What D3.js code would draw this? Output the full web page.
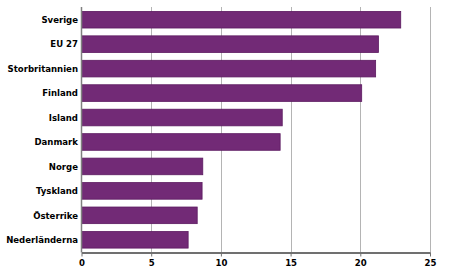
<!DOCTYPE html>
<html>
<head>
<meta charset="utf-8">
<script src="https://cdn.jsdelivr.net/npm/d3@7"></script>
<style>
  body { margin: 0; background: #fff; }
  text { font-family: 'DejaVu Sans Condensed', 'DejaVu Sans', sans-serif; font-weight: bold; font-size: 9.5px; fill: #000; }
</style>
</head>
<body>
<div id="chart"></div>
<script>
// values
const countries = ['Sverige', 'EU 27', 'Storbritannien', 'Finland', 'Island',
  'Danmark', 'Norge', 'Tyskland', 'Österrike', 'Nederländerna'];
const values = [22.9, 21.3, 21.1, 20.1, 14.4, 14.25, 8.7, 8.65, 8.3, 7.65];
const ticks = [0, 5, 10, 15, 20, 25];

const W = 450, H = 272;
const margin = { top: 7, right: 20, bottom: 19.5, left: 81.5 };

const svg = d3.select('#chart').append('svg')
  .attr('width', W)
  .attr('height', H);

const x = d3.scaleLinear()
  .domain([0, 25])
  .range([margin.left, W - margin.right]);

const y = d3.scaleBand()
  .domain(countries)
  .range([margin.top, H - margin.bottom])
  .paddingInner(0.32)
  .paddingOuter(0.18);

// gridlines
svg.append('g')
  .selectAll('line')
  .data(ticks.slice(1))
  .enter().append('line')
  .attr('x1', d => Math.round(x(d)) + 0.5)
  .attr('x2', d => Math.round(x(d)) + 0.5)
  .attr('y1', margin.top)
  .attr('y2', H - margin.bottom)
  .style('stroke', '#b4b4b4')
  .style('stroke-width', 1);

svg.append('g')
  .selectAll('rect')
  .data(values)
  .enter().append('rect')
  .attr('x', x(0))
  .attr('y', (d, i) => y(countries[i]))
  .attr('width', d => x(d) - x(0))
  .attr('height', y.bandwidth())
  .style('fill', '#722a76')
  .style('stroke', '#5c1a60')
  .style('stroke-width', 0.8);

// category labels
svg.append('g')
  .selectAll('text')
  .data(countries)
  .enter().append('text')
  .attr('x', margin.left - 3.5)
  .attr('y', d => y(d) + y.bandwidth() / 2)
  .attr('dy', '0.35em')
  .attr('text-anchor', 'end')
  .text(d => d);

// y axis line
svg.append('line')
  .attr('x1', x(0)).attr('x2', x(0))
  .attr('y1', margin.top).attr('y2', H - margin.bottom)
  .style('stroke', '#808080')
  .style('stroke-width', 1.5);

// x axis
const xAxis = d3.axisBottom(x)
  .tickValues(ticks)
  .tickSize(4)
  .tickSizeOuter(0)
  .tickPadding(3);

const gx = svg.append('g')
  .attr('transform', 'translate(0,' + (H - margin.bottom) + ')')
  .call(xAxis);

gx.select('.domain').style('stroke', '#707070').style('stroke-width', 2);
gx.selectAll('.tick line').style('stroke', '#707070');
gx.selectAll('.tick text')
  .style('font-family', "'DejaVu Sans Condensed', 'DejaVu Sans', sans-serif")
  .style('font-weight', 'bold')
  .style('font-size', '9.5px')
  .style('fill', '#000');
</script>
</body>
</html>
